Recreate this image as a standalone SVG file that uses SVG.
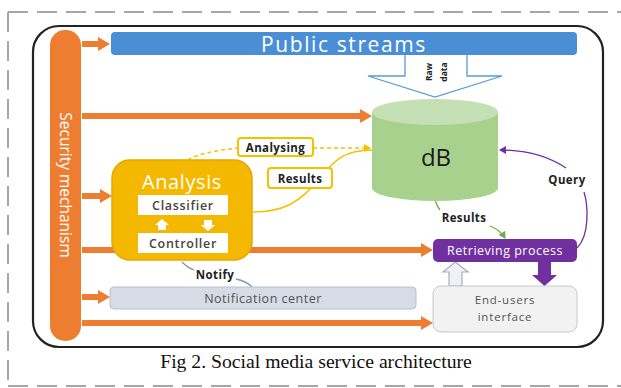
<svg xmlns="http://www.w3.org/2000/svg" width="621" height="388" viewBox="0 0 621 388">
<style>
text{font-family:"Open Sans","Noto Sans","DejaVu Sans",sans-serif}
.ol{stroke:#ED7D31;stroke-width:6;fill:none}
.lbl{fill:#fff;stroke:#F5C000;stroke-width:2}
.lt{font-size:11.5px;font-weight:bold;fill:#222;text-anchor:middle;letter-spacing:0.4px}
.wt{fill:#fff;text-anchor:middle}
.gt{fill:#555;text-anchor:middle;font-size:12.5px;letter-spacing:0.5px}
.bt{font-size:12.5px;font-weight:600;fill:#444;text-anchor:middle;letter-spacing:0.7px}
</style>
<defs>
<marker id="oa" markerUnits="userSpaceOnUse" markerWidth="14" markerHeight="14" refX="0" refY="7" orient="auto"><path d="M0,0 L12,7 L0,14 z" fill="#ED7D31"/></marker>
<marker id="ya" markerUnits="userSpaceOnUse" markerWidth="8" markerHeight="8" refX="6" refY="4" orient="auto"><path d="M0,0 L7,4 L0,8 z" fill="#F5C000"/></marker>
<marker id="pa" markerUnits="userSpaceOnUse" markerWidth="8" markerHeight="8" refX="6" refY="4" orient="auto"><path d="M0,0 L7,4 L0,8 z" fill="#7030A0"/></marker>
<marker id="ga" markerUnits="userSpaceOnUse" markerWidth="8" markerHeight="8" refX="6" refY="4" orient="auto"><path d="M0,0 L7,4 L0,8 z" fill="#70AD47"/></marker>
</defs>
<rect width="621" height="388" fill="#fff"/>
<g id="frame" fill="none" stroke="#A6A6A6" stroke-width="2" stroke-dasharray="20 9">
<path d="M8,12 H621"/>
<path d="M8,12 V388"/>
<path d="M8,386 H621"/>
</g>
<rect id="container" x="33" y="26" width="570" height="321" rx="26" fill="#fff" stroke="#222" stroke-width="2.2"/>

<g id="connectors">
<path class="ol" d="M82,44 H98" marker-end="url(#oa)"/>
<path class="ol" d="M82,116 H360" marker-end="url(#oa)"/>
<path class="ol" d="M82,196 H100" marker-end="url(#oa)"/>
<path class="ol" d="M82,250 H421" marker-end="url(#oa)"/>
<path class="ol" d="M82,297 H98" marker-end="url(#oa)"/>
<path class="ol" d="M82,323 H421" marker-end="url(#oa)"/>
<path d="M188,160 Q200,152 238,148" fill="none" stroke="#F5C000" stroke-width="1.5" stroke-dasharray="4 3"/>
<path d="M313,148 H370" fill="none" stroke="#F5C000" stroke-width="1.5" stroke-dasharray="4 3" marker-end="url(#ya)"/>
<path d="M372,150 C345,150 335,160 322,175 C300,205 280,212 253,212" fill="none" stroke="#F5C000" stroke-width="1.5"/>
<path d="M182,262 Q188,268 194,270" fill="none" stroke="#8497B0" stroke-width="1.3"/>
<path d="M236,279 Q246,281 252,287" fill="none" stroke="#8497B0" stroke-width="1.3"/>
<path d="M435,200 Q437,206 440,210" fill="none" stroke="#70AD47" stroke-width="1.3"/>
<path d="M490,226 Q500,230 505,238" fill="none" stroke="#70AD47" stroke-width="1.3" marker-end="url(#ga)"/>
<path d="M577,248 C590,235 588,205 584,192" fill="none" stroke="#7030A0" stroke-width="1.3"/>
<path d="M566,168 C548,156 525,150 500,150" fill="none" stroke="#7030A0" stroke-width="1.3" marker-end="url(#pa)"/>
<path d="M405,55 V76 H368 L435,97 L502,76 H467 V55" fill="#fff" stroke="#5B9BD5" stroke-width="1.3"/>
<path d="M449,286 V272 H443 L455.5,262 L468,272 H462 V286 z" fill="#EEF1F6" stroke="#A6AEBF" stroke-width="1.2"/>
<path d="M538,262 V275 H532 L544.5,286 L557,275 H551 V262 z" fill="#7030A0"/>
</g>

<g id="security">
<rect x="50" y="30" width="31" height="311" rx="15" fill="#ED7D31"/>
<text class="wt" transform="translate(65,185) rotate(90)" y="5.5" font-size="15.5">Security mechanism</text>
</g>

<g id="public-streams">
<rect x="111" y="32" width="466" height="23" rx="4" fill="#4A8FD6"/>
<text class="wt" x="344" y="51.5" font-size="21" letter-spacing="1.6">Public streams</text>
</g>

<g id="raw-data">
<text transform="translate(432,72) rotate(-90)" text-anchor="middle" font-size="8.5" font-weight="bold" fill="#222">Raw</text>
<text transform="translate(447,72) rotate(-90)" text-anchor="middle" font-size="8.5" font-weight="bold" fill="#222">data</text>
</g>

<g id="db">
<path d="M372,112 V188 A63,13 0 0 0 498,188 V112 z" fill="#A9D18E"/>
<ellipse cx="435" cy="112" rx="63" ry="13" fill="#C5E0B4"/>
<text x="436" y="166" text-anchor="middle" font-size="24" fill="#1a1a1a">dB</text>
</g>

<g id="analysis">
<rect x="112" y="160" width="140" height="100" rx="18" fill="#F5B800" stroke="#E6A700" stroke-width="1.5"/>
<text class="wt" x="182" y="189" font-size="20" letter-spacing="0.6">Analysis</text>
<rect x="138" y="195" width="90" height="20" fill="#fff"/>
<text class="bt" x="183" y="210">Classifier</text>
<rect x="138" y="233" width="90" height="20" fill="#fff"/>
<text class="bt" x="183" y="248">Controller</text>
<path d="M158,230 V225 H155 L162,219 L169,225 H166 V230 z" fill="#fff"/>
<path d="M204,220 V225 H201 L208,231 L215,225 H212 V220 z" fill="#fff"/>
</g>

<g id="label-analysing">
<rect class="lbl" x="238" y="138" width="75" height="18" rx="3"/>
<text class="lt" x="275.5" y="151.5">Analysing</text>
</g>
<g id="label-results1">
<rect class="lbl" x="268" y="168" width="64" height="20" rx="3"/>
<text class="lt" x="300" y="182.5">Results</text>
</g>
<g id="label-notify">
<text class="lt" x="215" y="279">Notify</text>
</g>
<g id="label-results2">
<text class="lt" x="464" y="222">Results</text>
</g>
<g id="label-query">
<text class="lt" x="567" y="184">Query</text>
</g>

<g id="notification-center">
<rect x="110" y="287" width="306" height="22" rx="4" fill="#D6DCE5" stroke="#B8C0CC" stroke-width="1"/>
<text class="gt" x="263" y="302.5">Notification center</text>
</g>

<g id="retrieving">
<rect x="433" y="239" width="144" height="23" rx="5" fill="#7030A0"/>
<text class="wt" x="505" y="255" font-size="12.5" letter-spacing="0.5">Retrieving process</text>
</g>

<g id="end-users">
<rect x="433" y="286" width="144" height="46" rx="8" fill="#F2F2F2" stroke="#C9C9C9" stroke-width="1"/>
<text class="gt" x="505" y="304" style="font-size:11.5px;letter-spacing:0.8px">End-users</text>
<text class="gt" x="505" y="321" style="font-size:11.5px;letter-spacing:0.8px">interface</text>
</g>

<text x="316" y="368" text-anchor="middle" font-size="19.7" fill="#111" style="font-family:'Liberation Serif','Times New Roman',serif">Fig 2. Social media service architecture</text>
</svg>
